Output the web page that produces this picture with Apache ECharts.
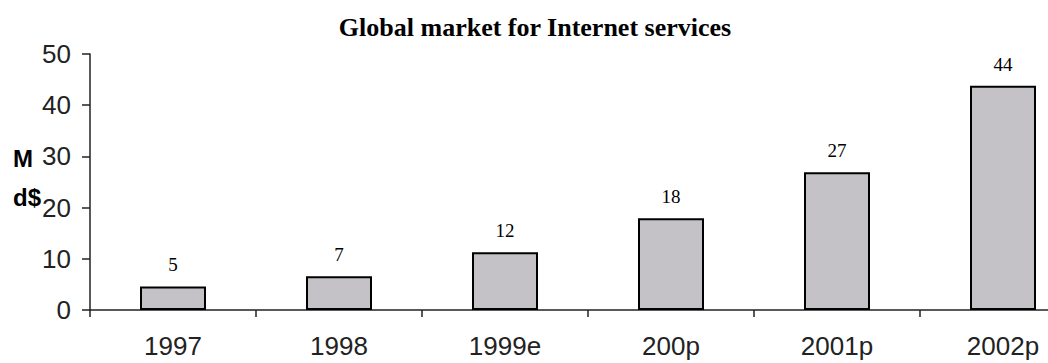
<!DOCTYPE html>
<html>
<head>
<meta charset="utf-8">
<script src="https://cdn.jsdelivr.net/npm/echarts@6/dist/echarts.min.js"></script>
<style>html,body{margin:0;padding:0;background:#fff;overflow:hidden;width:1048px;height:363px}#c{width:1090px;height:363px}</style>
</head>
<body>
<div id="c"></div>
<script>
var titleText = 'Global market for Internet services';
var categories = ['1997', '1998', '1999e', '200p', '2001p', '2002p'];
var values = [4.6, 6.6, 11.3, 17.9, 26.9, 43.8];
var valueLabels = ['5', '7', '12', '18', '27', '44'];
var yTicks = [0, 10, 20, 30, 40, 50];
var unitLines = ['M', 'd$'];

var chart = echarts.init(document.getElementById('c'), null, {renderer: 'svg'});
chart.setOption({
  animation: false,
  backgroundColor: '#fff',
  title: {
    text: titleText,
    left: 530, textAlign: 'center', top: 9,
    textStyle: {fontFamily: 'Liberation Serif', fontWeight: 'bold', fontSize: 26, color: '#000'}
  },
  graphic: [
    {type: 'text', left: 13, top: 146, style: {text: unitLines[0], font: 'bold 24px "Liberation Sans"', fill: '#000'}},
    {type: 'text', left: 13, top: 185, style: {text: unitLines[1], font: 'bold 24px "Liberation Sans"', fill: '#000'}}
  ],
  grid: {left: 90, top: 54, width: 996, height: 256, containLabel: false},
  xAxis: {
    type: 'category',
    data: categories,
    axisLine: {lineStyle: {color: '#222', width: 1.5}},
    axisTick: {show: true, length: 7, lineStyle: {color: '#222', width: 1.5}},
    axisLabel: {margin: 23, fontFamily: 'Liberation Sans', fontSize: 26, color: '#222'}
  },
  yAxis: {
    type: 'value', min: yTicks[0], max: yTicks[yTicks.length - 1], interval: yTicks[1] - yTicks[0],
    axisLine: {show: true, lineStyle: {color: '#222', width: 1.5}},
    axisTick: {show: true, length: 8, lineStyle: {color: '#222', width: 1.5}},
    splitLine: {show: false},
    axisLabel: {margin: 19, fontFamily: 'Liberation Sans', fontSize: 26, color: '#222'}
  },
  series: [{
    type: 'bar',
    data: values,
    barWidth: 66,
    itemStyle: {color: '#c4c2c6', borderColor: '#000', borderWidth: 2},
    label: {
      show: true, position: 'top', distance: 12,
      formatter: function (p) { return valueLabels[p.dataIndex]; },
      fontFamily: 'Liberation Serif', fontSize: 19, color: '#000'
    }
  }]
});
</script>
</body>
</html>
